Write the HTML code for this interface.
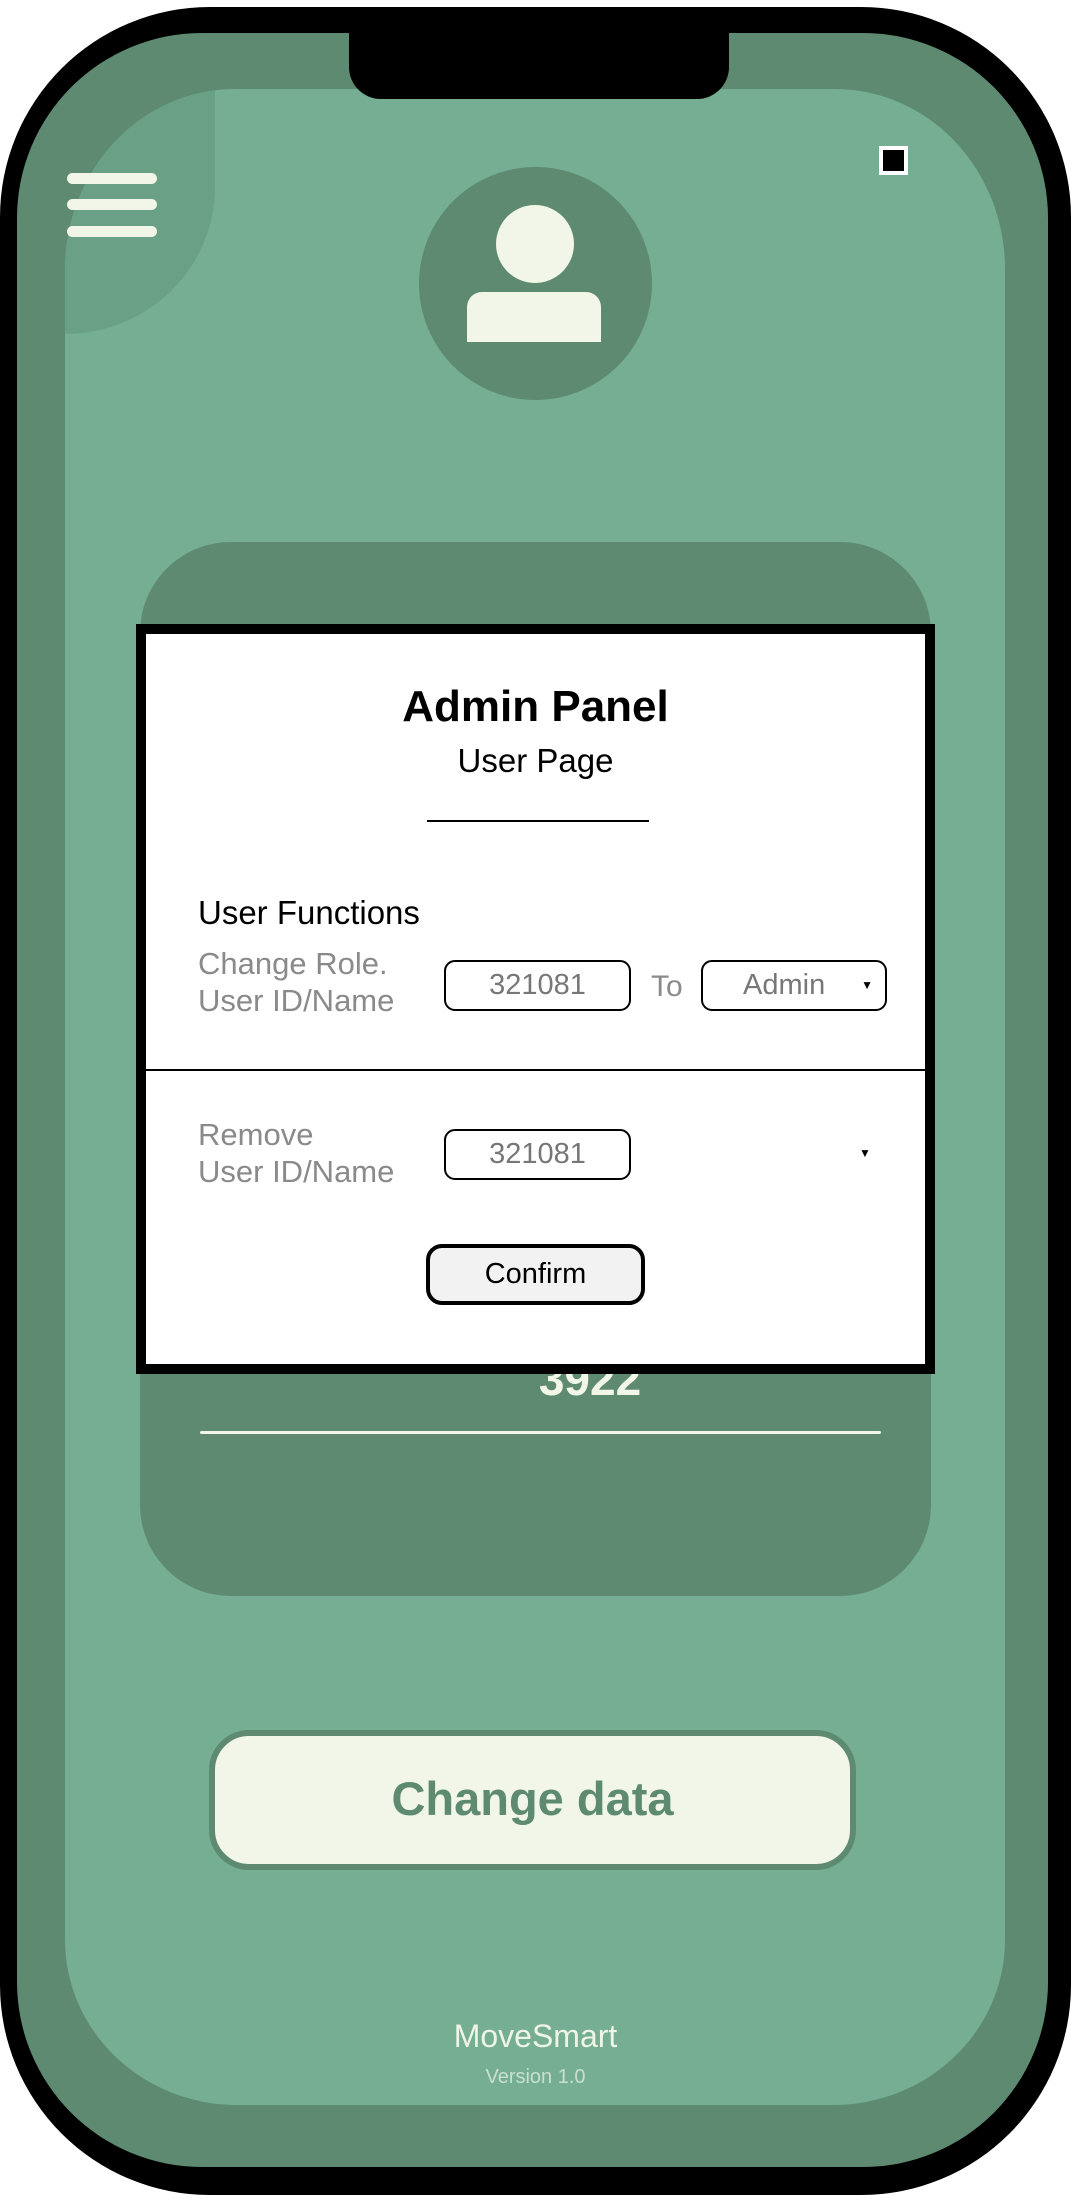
<!DOCTYPE html>
<html><head><meta charset="utf-8"><style>
*{margin:0;padding:0;box-sizing:border-box}
body{width:1071px;height:2195px;background:#fff;position:relative;overflow:hidden;font-family:"Liberation Sans",sans-serif}
.abs{position:absolute}
#black{left:0;top:7px;width:1071px;height:2188px;background:#000;border-radius:210px}
#bezel{left:17px;top:33px;width:1031px;height:2134px;background:#5d8a71;border-radius:185px}
#screen{left:65px;top:89px;width:940px;height:2016px;background:#75ae93;border-radius:170px 170px 172px 172px/180px 180px 165px 165px;overflow:hidden}
#tl{left:0;top:0;width:150px;height:245px;background:#6aa086;border-bottom-right-radius:150px 147px}
#notch{left:349px;top:20px;width:380px;height:79px;background:#000;border-radius:0 0 32px 32px}
.bar{left:67px;width:90px;height:11px;background:#f2f6e8;border-radius:6px}
#sq{left:879px;top:146px;width:29px;height:29px;background:#000;border:4px solid #fff}
#av{left:419px;top:167px;width:233px;height:233px;border-radius:50%;background:#5d8a71}
#head{left:496px;top:205px;width:78px;height:78px;border-radius:50%;background:#f2f6e8}
#body2{left:467px;top:292px;width:134px;height:50px;background:#f2f6e8;border-radius:15px 15px 0 0}
#card{left:140px;top:542px;width:791px;height:1054px;background:#5d8a71;border-radius:91px}
#num{left:440px;top:1352px;width:300px;text-align:center;color:#f2f6e8;font-weight:bold;font-size:46px}
#cline{left:200px;top:1431px;width:681px;height:3px;background:#f2f6e8;border-radius:2px}
#modal{left:136px;top:624px;width:799px;height:750px;background:#fff;border:10px solid #000}
.t{position:absolute;white-space:nowrap}
.gray{color:#8a8a8a;font-weight:300}
.box{position:absolute;border:2px solid #000;border-radius:11px;text-align:center;color:#777;font-size:29px;line-height:47px}
#btn{left:209px;top:1730px;width:647px;height:140px;background:#f2f6e8;border:6px solid #5d8a71;border-radius:40px;text-align:center;color:#5d8a71;font-weight:bold;font-size:47px;line-height:126px}
</style></head><body>
<div id="black" class="abs"></div>
<div id="bezel" class="abs"></div>
<div id="screen" class="abs"><div id="tl" class="abs"></div></div>
<div id="notch" class="abs"></div>
<div class="abs bar" style="top:173px"></div>
<div class="abs bar" style="top:199px"></div>
<div class="abs bar" style="top:226px"></div>
<div id="sq" class="abs"></div>
<div id="av" class="abs"></div>
<div id="head" class="abs"></div>
<div id="body2" class="abs"></div>
<div id="card" class="abs"></div>
<div id="num" class="abs">3922</div>
<div id="cline" class="abs"></div>
<div id="modal" class="abs">
 <div class="t" style="left:0;width:779px;text-align:center;top:48px;font-size:44px;font-weight:bold">Admin Panel</div>
 <div class="t" style="left:0;width:779px;text-align:center;top:108px;font-size:33px;font-weight:300">User Page</div>
 <div class="abs" style="left:281px;top:186px;width:222px;height:2px;background:#000"></div>
 <div class="t" style="left:52px;top:260px;font-size:33px">User Functions</div>
 <div class="t gray" style="left:52px;top:312px;font-size:31px">Change Role.</div>
 <div class="t gray" style="left:52px;top:349px;font-size:31px">User ID/Name</div>
 <div class="box" style="left:298px;top:326px;width:187px;height:51px">321081</div>
 <div class="t gray" style="left:505px;top:336px;font-size:30px">To</div>
 <div class="box" style="left:555px;top:326px;width:186px;height:51px;text-align:left;padding-left:40px">Admin<span style="position:absolute;right:12px;top:0;font-size:12px;color:#000">▼</span></div>
 <div class="abs" style="left:0;top:435px;width:781px;height:2px;background:#000"></div>
 <div class="t gray" style="left:52px;top:483px;font-size:31px">Remove</div>
 <div class="t gray" style="left:52px;top:520px;font-size:31px">User ID/Name</div>
 <div class="box" style="left:298px;top:495px;width:187px;height:51px">321081</div>
 <div class="t" style="left:713px;top:512px;font-size:12px">▼</div>
 <div class="abs" style="left:280px;top:610px;width:219px;height:61px;background:#f2f2f2;border:4px solid #000;border-radius:16px;text-align:center;font-size:29px;line-height:53px">Confirm</div>
</div>
<div id="btn" class="abs">Change data</div>
<div class="t" style="left:0;width:1071px;text-align:center;top:2018px;font-size:32px;color:#eef4e6">MoveSmart</div>
<div class="t" style="left:0;width:1071px;text-align:center;top:2066px;font-size:20px;color:#c9dfd0">Version 1.0</div>
</body></html>
